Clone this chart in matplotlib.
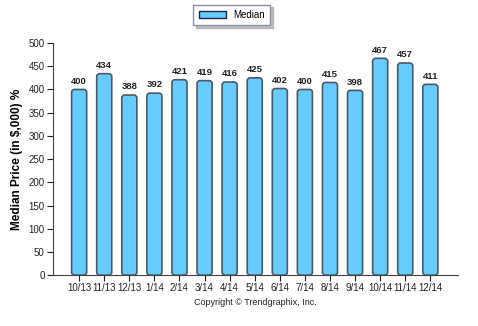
import matplotlib.pyplot as plt
from matplotlib.patches import FancyBboxPatch, Patch

plt.rcParams['font.family'] = ['Liberation Sans', 'DejaVu Sans']

months = ['10/13', '11/13', '12/13', '1/14', '2/14', '3/14', '4/14', '5/14',
          '6/14', '7/14', '8/14', '9/14', '10/14', '11/14', '12/14']
median = [400, 434, 388, 392, 421, 419, 416, 425, 402, 400, 415, 398, 467, 457, 411]

fill = '#66ccff'
edge = '#4a5a66'

fig = plt.figure(figsize=(4.78, 3.26), dpi=100)
ax = fig.add_axes([0.111, 0.156, 0.847, 0.712])

# rounded bars
w = 0.6
for i, v in enumerate(median):
    box = FancyBboxPatch((i - w / 2, 0), w, v,
                         boxstyle='round,pad=0,rounding_size=0.12',
                         mutation_aspect=54, fc=fill, ec=edge, lw=1.2)
    ax.add_patch(box)
    ax.text(i, v + 8, str(v), ha='center', va='bottom', fontsize=6.8,
            fontweight='bold', color='#222222')

ax.set_xlim(-1.04, 15.1)
ax.set_ylim(0, 500)
ax.set_yticks(range(0, 501, 50))
ax.set_xticks(range(len(months)))
ax.set_xticklabels(months)
ax.tick_params(axis='both', labelsize=7, colors='#222222', length=4, width=0.8)
ax.tick_params(axis='y', pad=2)
ax.tick_params(axis='x', pad=2)
for s in ['top', 'right']:
    ax.spines[s].set_visible(False)
for s in ['left', 'bottom']:
    ax.spines[s].set_color('#444444')

ax.set_ylabel('Median Price (in $,000) %', fontsize=8.5, fontweight='bold', labelpad=4)

leg = fig.legend(handles=[Patch(fc=fill, ec='#222244', lw=1)], labels=['Median'],
                 loc='center', bbox_to_anchor=(0.485, 0.954), fontsize=7,
                 frameon=True, fancybox=False,
                 shadow={'ox': 2, 'oy': -2, 'color': '#999999', 'alpha': 0.6},
                 handlelength=2.8, handleheight=0.7, borderpad=0.55)
leg.get_frame().set_edgecolor('#8890a8')

fig.text(0.535, 0.072, 'Copyright \u00a9 Trendgraphix, Inc.', ha='center', va='center',
         fontsize=6.5, color='#222222')

fig.savefig('out.png', dpi=100)
